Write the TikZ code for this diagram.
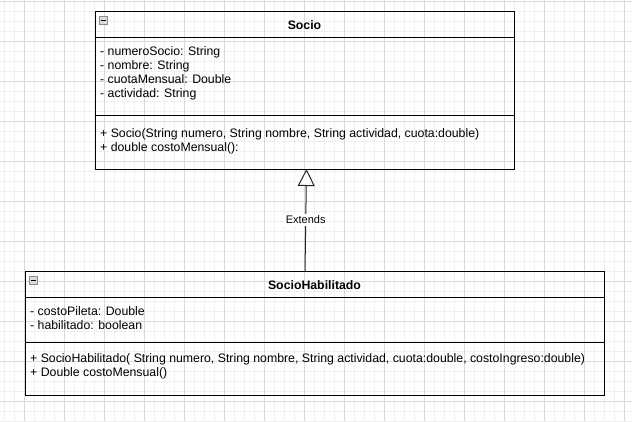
\documentclass[tikz,border=0pt]{standalone}
\usepackage{fontspec}
\setmainfont{Liberation Sans}
\usetikzlibrary{arrows.meta}
\definecolor{gridmajor}{HTML}{DADADA}
\definecolor{gridminor}{HTML}{F0F0F0}
\definecolor{iconfill}{HTML}{DCDCDC}
\definecolor{iconedge}{HTML}{8C8C8C}
\tikzset{
  umlbox/.style={draw=black, line width=1pt, inner sep=0pt, outer sep=0pt},
  divider/.style={draw=black, line width=1pt},
  member/.style={anchor=base west, inner sep=0pt, font=\fontsize{12.3}{14}\selectfont},
  classtitle/.style={anchor=base, inner sep=0pt, font=\fontsize{12.3}{14}\selectfont\bfseries},
  collapsebox/.style={draw=iconedge, fill=iconfill, line width=0.8pt, minimum size=8pt, inner sep=0pt, outer sep=0pt},
  extendsline/.style={draw=black!85, line width=1pt, -{Triangle[width=17pt,length=17pt,fill=white]}},
  edgelabel/.style={fill=white, inner sep=1.5pt, font=\fontsize{11}{13}\selectfont}
}
\begin{document}
\begin{tikzpicture}[x=1pt,y=-1pt]
\useasboundingbox (0,0) rectangle (632,421);
\fill[white] (0,0) rectangle (632,421);
% grid
\begin{scope}
\clip (0,0) rectangle (632,421);
\foreach \gx in {4,14,...,634} \draw[gridminor, line width=1pt] (\gx,0) -- (\gx,421);
\foreach \gy in {1,11,...,421} \draw[gridminor, line width=1pt] (0,\gy) -- (632,\gy);
\foreach \gx in {24,64,...,624} \draw[gridmajor, line width=1pt] (\gx,0) -- (\gx,421);
\foreach \gy in {1,41,...,401} \draw[gridmajor, line width=1pt] (0,\gy) -- (632,\gy);
\end{scope}

% Socio class
\node[umlbox, minimum width=419pt, minimum height=158pt] (socio) at (304.5,90) {};
\draw[divider] (socio.west |- 0,37) -- (socio.east |- 0,37);
\draw[divider] (socio.west |- 0,115) -- (socio.east |- 0,115);
\node[collapsebox] (socioicon) at (103.5,20.5) {};
\draw[black, line width=1.4pt] ([xshift=1.8pt]socioicon.west) -- ([xshift=-1.8pt]socioicon.east);
\node[classtitle] (sociotitle) at (304.5,29) {Socio};
\node[member] (sa1) at (100,55) {- numeroSocio: String};
\node[member] (sa2) at (100,69) {- nombre: String};
\node[member] (sa3) at (100,83) {- cuotaMensual: Double};
\node[member] (sa4) at (100,97) {- actividad: String};
\node[member] (sm1) at (100,137) {+ Socio(String numero, String nombre, String actividad, cuota:double)};
\node[member] (sm2) at (100,151) {+ double costoMensual():};

% SocioHabilitado class
\node[umlbox, minimum width=579pt, minimum height=124pt] (hab) at (314.5,333) {};
\draw[divider] (hab.west |- 0,297) -- (hab.east |- 0,297);
\draw[divider] (hab.west |- 0,342) -- (hab.east |- 0,342);
\node[collapsebox] (habicon) at (33.5,280.5) {};
\draw[black, line width=1.4pt] ([xshift=1.8pt]habicon.west) -- ([xshift=-1.8pt]habicon.east);
\node[classtitle] (habtitle) at (314.5,289) {SocioHabilitado};
\node[member] (ha1) at (30,315) {- costoPileta: Double};
\node[member] (ha2) at (30,329) {- habilitado: boolean};
\node[member] (hm1) at (30,362) {+ SocioHabilitado( String numero, String nombre, String actividad, cuota:double, costoIngreso:double)};
\node[member] (hm2) at (30,376) {+ Double costoMensual()};

% inheritance
\coordinate (from) at (hab.north -| 305,0);
\coordinate (to) at (socio.south -| 306.5,0);
\draw[extendsline] (from) -- (to);
\node[edgelabel] (extlabel) at (305.7,220) {Extends};
\end{tikzpicture}
\end{document}
